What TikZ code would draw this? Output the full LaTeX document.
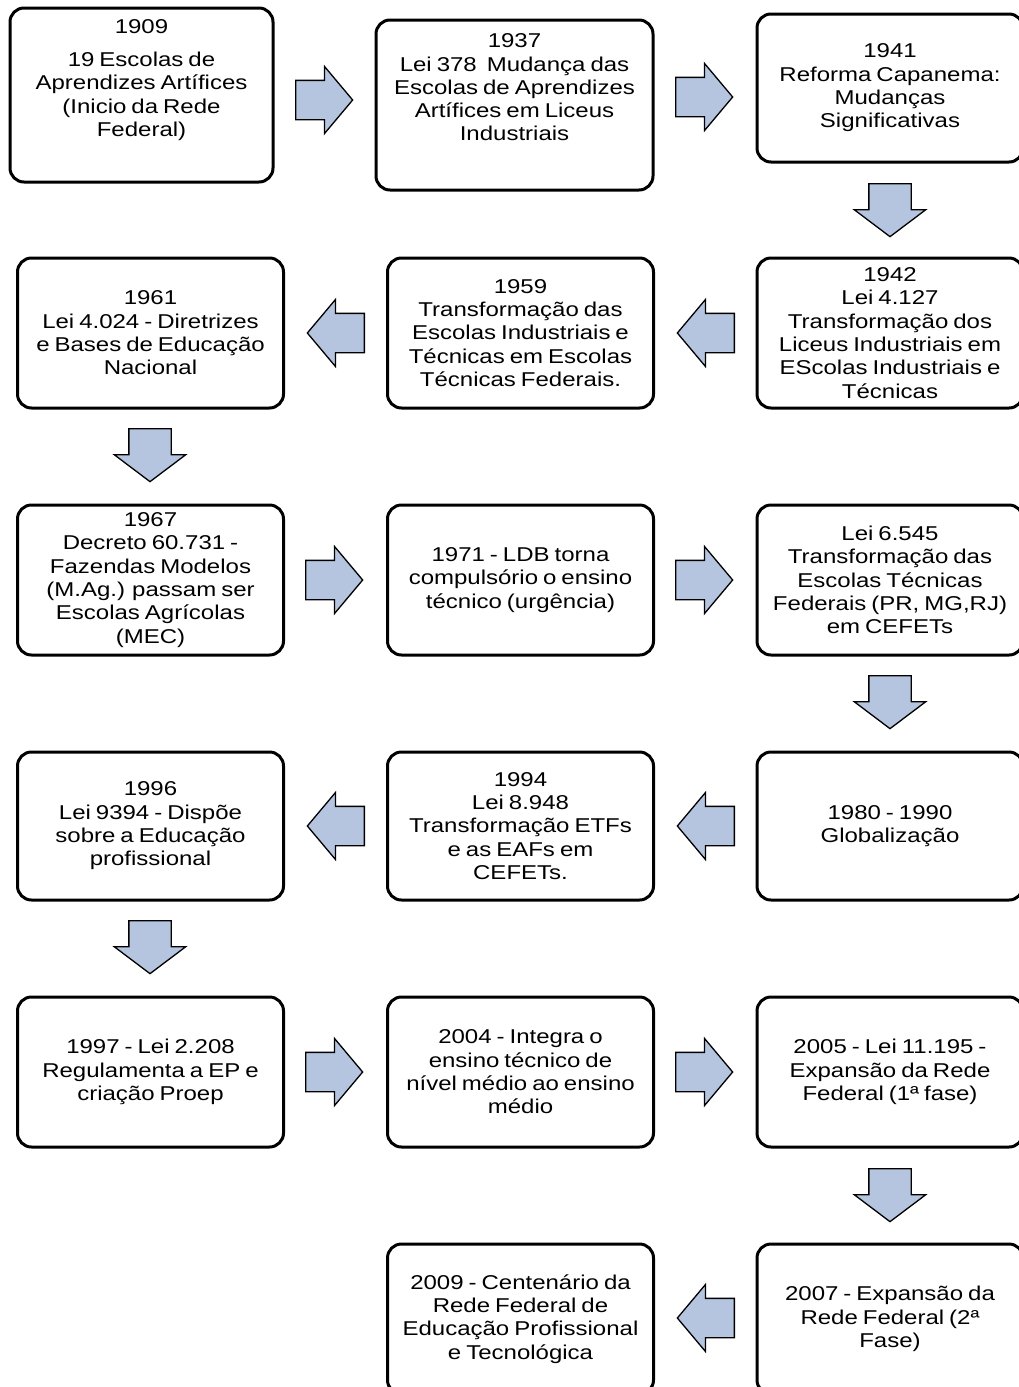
\documentclass[tikz,border=0pt]{standalone}
\usepackage{fontspec}
\setmainfont{Liberation Sans}[FakeStretch=1.2,WordSpace=0.75]
\usetikzlibrary{shapes.arrows}
\definecolor{setacor}{RGB}{181,197,223}

\begin{document}
\begin{tikzpicture}[x=1pt,y=-1pt,
  evento/.style={draw,line width=3pt,rounded corners=14pt,minimum width=266pt,minimum height=150pt,
    align=center,inner sep=2pt,font=\fontsize{20}{23.3}\selectfont},
  setah/.style={single arrow,draw,line width=1.3pt,fill=setacor,minimum height=57pt,minimum width=0pt,
    inner xsep=0pt,inner ysep=19pt,single arrow head extend=14pt,single arrow tip angle=100,anchor=tail},
  setav/.style={setah,rotate=-90,minimum height=53pt,inner ysep=20.5pt,single arrow head extend=14.5pt,
    single arrow tip angle=106}]
\useasboundingbox (0,0) rectangle (1018,1387);

% Linha 1
\node[evento,minimum width=263pt,minimum height=174pt] (b1909) at (141.5,95)
  {1909\\[10pt]19 Escolas de\\Aprendizes Artífices\\(Inicio da Rede\\Federal)\\[11pt]~};
\node[evento,minimum width=277pt,minimum height=170pt] (b1937) at (514.5,105)
  {1937\\Lei 378\ \ Mudança das\\Escolas de Aprendizes\\Artífices em Liceus\\Industriais\\[12pt]~};
\node[evento,minimum height=148pt] (b1941) at (890,88)
  {1941\\Reforma Capanema:\\Mudanças\\Significativas};

% Linha 2
\node[evento] (b1961) at (150.5,333)
  {1961\\Lei 4.024 - Diretrizes\\e Bases de Educação\\Nacional};
\node[evento] (b1959) at (520.5,333)
  {1959\\Transformação das\\Escolas Industriais e\\Técnicas em Escolas\\Técnicas Federais.};
\node[evento] (b1942) at (890,333)
  {1942\\Lei 4.127\\Transformação dos\\Liceus Industriais em\\EScolas Industriais e\\Técnicas};

% Linha 3
\node[evento] (b1967) at (150.5,580)
  {1967\\Decreto 60.731 -\\Fazendas Modelos\\(M.Ag.) passam ser\\Escolas Agrícolas\\(MEC)};
\node[evento] (b1971) at (520.5,580)
  {1971 - LDB torna\\compulsório o ensino\\técnico (urgência)};
\node[evento] (b6545) at (890,580)
  {Lei 6.545\\Transformação das\\Escolas Técnicas\\Federais (PR, MG,RJ)\\em CEFETs};

% Linha 4
\node[evento,minimum height=148pt] (b1996) at (150.5,826)
  {1996\\Lei 9394 - Dispõe\\sobre a Educação\\profissional};
\node[evento,minimum height=148pt] (b1994) at (520.5,826)
  {1994\\Lei 8.948\\Transformação ETFs\\e as EAFs em\\CEFETs.};
\node[evento,minimum height=148pt] (b1980) at (890,826)
  {1980 - 1990\\Globalização};

% Linha 5
\node[evento] (b1997) at (150.5,1072)
  {1997 - Lei 2.208\\Regulamenta a EP e\\criação Proep};
\node[evento] (b2004) at (520.5,1072)
  {2004 - Integra o\\ensino técnico de\\nível médio ao ensino\\médio};
\node[evento] (b2005) at (890,1072)
  {2005 - Lei 11.195 -\\Expansão da Rede\\Federal (1ª fase)};

% Linha 6
\node[evento] (b2009) at (520.5,1319)
  {2009 - Centenário da\\Rede Federal de\\Educação Profissional\\e Tecnológica};
\node[evento] (b2007) at (890,1319)
  {2007 - Expansão da\\Rede Federal (2ª\\Fase)};

% Setas (posicionadas pela cauda)
\node[setah] (a1) at (295,100) {};
\node[setah] (a2) at (675,97) {};
\node[setav] (a3) at (890,183) {};
\node[setah,rotate=180] (a4) at (365,333) {};
\node[setah,rotate=180] (a5) at (735,333) {};
\node[setav] (a6) at (150,428) {};
\node[setah] (a7) at (305,580) {};
\node[setah] (a8) at (675,580) {};
\node[setav] (a9) at (890,675) {};
\node[setah,rotate=180] (a10) at (365,826) {};
\node[setah,rotate=180] (a11) at (735,826) {};
\node[setav] (a12) at (150,920) {};
\node[setah] (a13) at (305,1072) {};
\node[setah] (a14) at (675,1072) {};
\node[setav] (a15) at (890,1168) {};
\node[setah,rotate=180] (a16) at (735,1318) {};
\end{tikzpicture}
\end{document}
